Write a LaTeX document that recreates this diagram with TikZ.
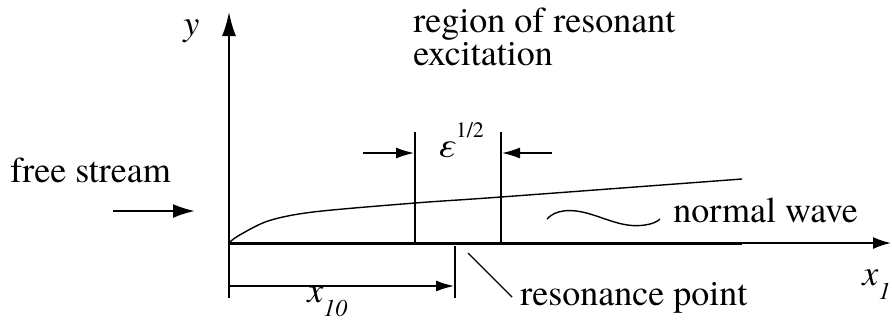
\documentclass[tikz,border=0pt]{standalone}
\usepackage{fontspec}
\setmainfont{texgyretermes}[
    Extension=.otf,
    UprightFont=*-regular,
    ItalicFont=*-italic,
    BoldFont=*-bold,
    BoldItalicFont=*-bolditalic]
\usetikzlibrary{arrows.meta}
\newcommand{\lowsub}[1]{\raisebox{-0.4em}{\fontsize{12}{12}\selectfont\textit{#1}}}

\begin{document}
\begin{tikzpicture}[
    x=0.5pt, y=-0.5pt,
    lbl/.style={font=\fontsize{18}{13.5}\selectfont, inner sep=0pt, anchor=base west},
    ax/.style={line width=0.9pt, -{Latex[length=9pt, width=6pt]}},
    dim/.style={line width=0.7pt, -{Latex[length=9pt, width=5.5pt]}},
    thin/.style={line width=0.7pt}
]
\useasboundingbox (0,0) rectangle (892,327);

% axes and plate
\coordinate (o) at (229,243);
\coordinate (ytip) at (229,12);
\coordinate (xtip) at (891,243);
\coordinate (plate) at (742,243);
\draw[ax, -{Latex[length=12pt, width=7pt]}] (o) -- (ytip);
\draw[ax] (o) -- (xtip);
\draw[line width=1.5pt] (o) -- (plate);
\node[lbl] (ylab) at (183,35) {\textit{y}};
\node[lbl] (xlab) at (862,285) {\textit{x}\lowsub{1}};

% boundary layer edge
\draw[thin] plot[smooth] coordinates {(229,243) (238,236) (268,221) (313,212)
    (415,203) (501,197) (742,179)};

% free stream
\node[lbl] (fs) at (10,182) {free stream};
\coordinate (fs1) at (113,211);
\coordinate (fs2) at (195,211);
\draw[line width=1.1pt, -{Latex[length=11pt, width=7pt]}] (fs1) -- (fs2);

% region of resonant excitation
\node[lbl, align=left] (reg) at (413,65) {region of resonant\\excitation};
\coordinate (r1t) at (415,132);
\coordinate (r1b) at (415,243);
\coordinate (r2t) at (501,132);
\coordinate (r2b) at (501,243);
\draw[thin] (r1t) -- (r1b);
\draw[thin] (r2t) -- (r2b);
\coordinate (e1) at (363,153);
\coordinate (e1e) at (414,153);
\coordinate (e2) at (552,153);
\coordinate (e2e) at (502,153);
\draw[dim] (e1) -- (e1e);
\draw[dim] (e2) -- (e2e);
\node[lbl] (eps) at (437,157) {\textit{ε}\raisebox{0.55em}{\fontsize{11}{11}\selectfont 1/2}};

% normal wave
\draw[thin] (547,219) .. controls (555,210) and (570,208) .. (590,214)
    .. controls (610,220) and (625,228) .. (645,225)
    .. controls (652,224) and (657,222) .. (660,219);
\node[lbl] (nw) at (673,222) {normal wave};

% resonance point and x10
\coordinate (t0a) at (229,243);
\coordinate (t0b) at (229,298);
\coordinate (t1a) at (455,246);
\coordinate (t1b) at (455,298);
\draw[thin] (t0a) -- (t0b);
\draw[thin] (t1a) -- (t1b);
\coordinate (d0) at (229,286);
\coordinate (d1) at (454,286);
\draw[dim] (d0) -- (d1);
\node[lbl] (x10) at (307,302) {\textit{x}\lowsub{10}};
\coordinate (rp1) at (468,253);
\coordinate (rp2) at (512,297);
\draw[thin] (rp1) -- (rp2);
\node[lbl] (rp) at (520,305) {resonance point};
\end{tikzpicture}
\end{document}
